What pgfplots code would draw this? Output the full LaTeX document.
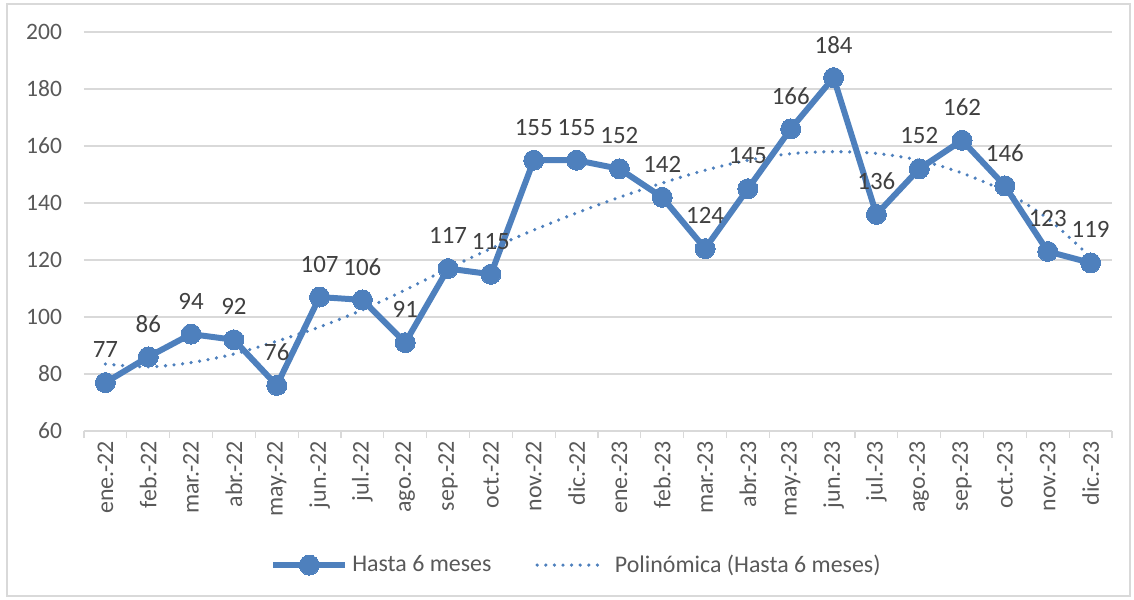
\documentclass[border=0pt]{standalone}
\usepackage{pgfplots}
\pgfplotsset{compat=1.18}
\usepackage{fontspec}
\setmainfont{Carlito}
\definecolor{sblue}{HTML}{4E80BD}
\definecolor{tgray}{HTML}{595959}
\definecolor{lgray}{HTML}{404040}
\definecolor{gridc}{HTML}{D9D9D9}
\begin{document}
\begin{tikzpicture}
\useasboundingbox (-42bp,-84.5bp) rectangle (525bp,215.5bp);
\draw[gridc, line width=0.6bp] (-38.5bp,-82.5bp) rectangle (523bp,213.5bp);
\begin{axis}[at={(0,0)}, anchor=south west, scale only axis,
  width=514bp, height=199.5bp,
  xmin=-0.5, xmax=23.5, ymin=60, ymax=200,
  ytick={60,80,...,200},
  xtick={0,...,23},
  xticklabels={ene.-22,feb.-22,mar.-22,abr.-22,may.-22,jun.-22,jul.-22,ago.-22,sep.-22,oct.-22,nov.-22,dic.-22,ene.-23,feb.-23,mar.-23,abr.-23,may.-23,jun.-23,jul.-23,ago.-23,sep.-23,oct.-23,nov.-23,dic.-23},
  minor xtick={-0.5,0.5,...,23.5},
  axis x line*=bottom,
  axis y line*=left,
  y axis line style={draw=none},
  x axis line style={draw=gridc, line width=0.6bp},
  tick align=outside,
  major tick length=0pt,
  minor tick length=3.5bp,
  minor x tick style={draw=gridc, line width=0.6bp},
  ymajorgrids,
  major grid style={draw=gridc, line width=0.6bp},
  /pgf/number format/assume math mode=true,
  x tick label style={rotate=90, anchor=east, font=\fontsize{12}{14}\selectfont, text=tgray, xshift=-1.5bp},
  y tick label style={font=\fontsize{11.8}{14}\selectfont, text=tgray, xshift=-7.5bp},
  clip=false,
  legend columns=2,
  legend style={at={(0.48,-0.336)}, anchor=center, draw=none, fill=none,
    font=\fontsize{12}{14}\selectfont, text=tgray,
    /tikz/every even column/.append style={column sep=20bp}},
]
\addplot[sblue, line width=3bp, line join=round, mark=*, mark size=5bp,
  mark options={fill=sblue, draw=sblue, line width=0pt},
  nodes near coords,
  every node near coord/.append style={font=\fontsize{12.5}{14}\selectfont, text=lgray, anchor=center, yshift=16.5bp},
  legend image code/.code={\draw[mark repeat=2,mark phase=2] plot coordinates {(0bp,0bp) (18bp,0bp) (36bp,0bp)};}
] coordinates {
(0,77) (1,86) (2,94) (3,92) (4,76) (5,107) (6,106) (7,91) (8,117) (9,115) (10,155) (11,155)
(12,152) (13,142) (14,124) (15,145) (16,166) (17,184) (18,136) (19,152) (20,162) (21,146) (22,123) (23,119)
};
\addlegendentry{Hasta 6 meses}
\addplot[sblue, line width=1.8bp, line cap=round, dash pattern=on 0bp off 4.3bp, smooth,
  legend image code/.code={\draw (0bp,0bp) -- (31bp,0bp); \path (36bp,0bp);}
] coordinates {
(0,83.5) (1,82.5) (2,84) (3,87) (4,91.5) (5,96.5) (6,102.5) (7,109.5) (8,117) (9,124) (10,130.5) (11,136.5)
(12,142) (13,147) (14,151.5) (15,155) (16,157.3) (17,158) (18,157.4) (19,155) (20,150.5) (21,144) (22,134.5) (23,121)
};
\addlegendentry{Polinómica (Hasta 6 meses)}
\end{axis}
\end{tikzpicture}
\end{document}
